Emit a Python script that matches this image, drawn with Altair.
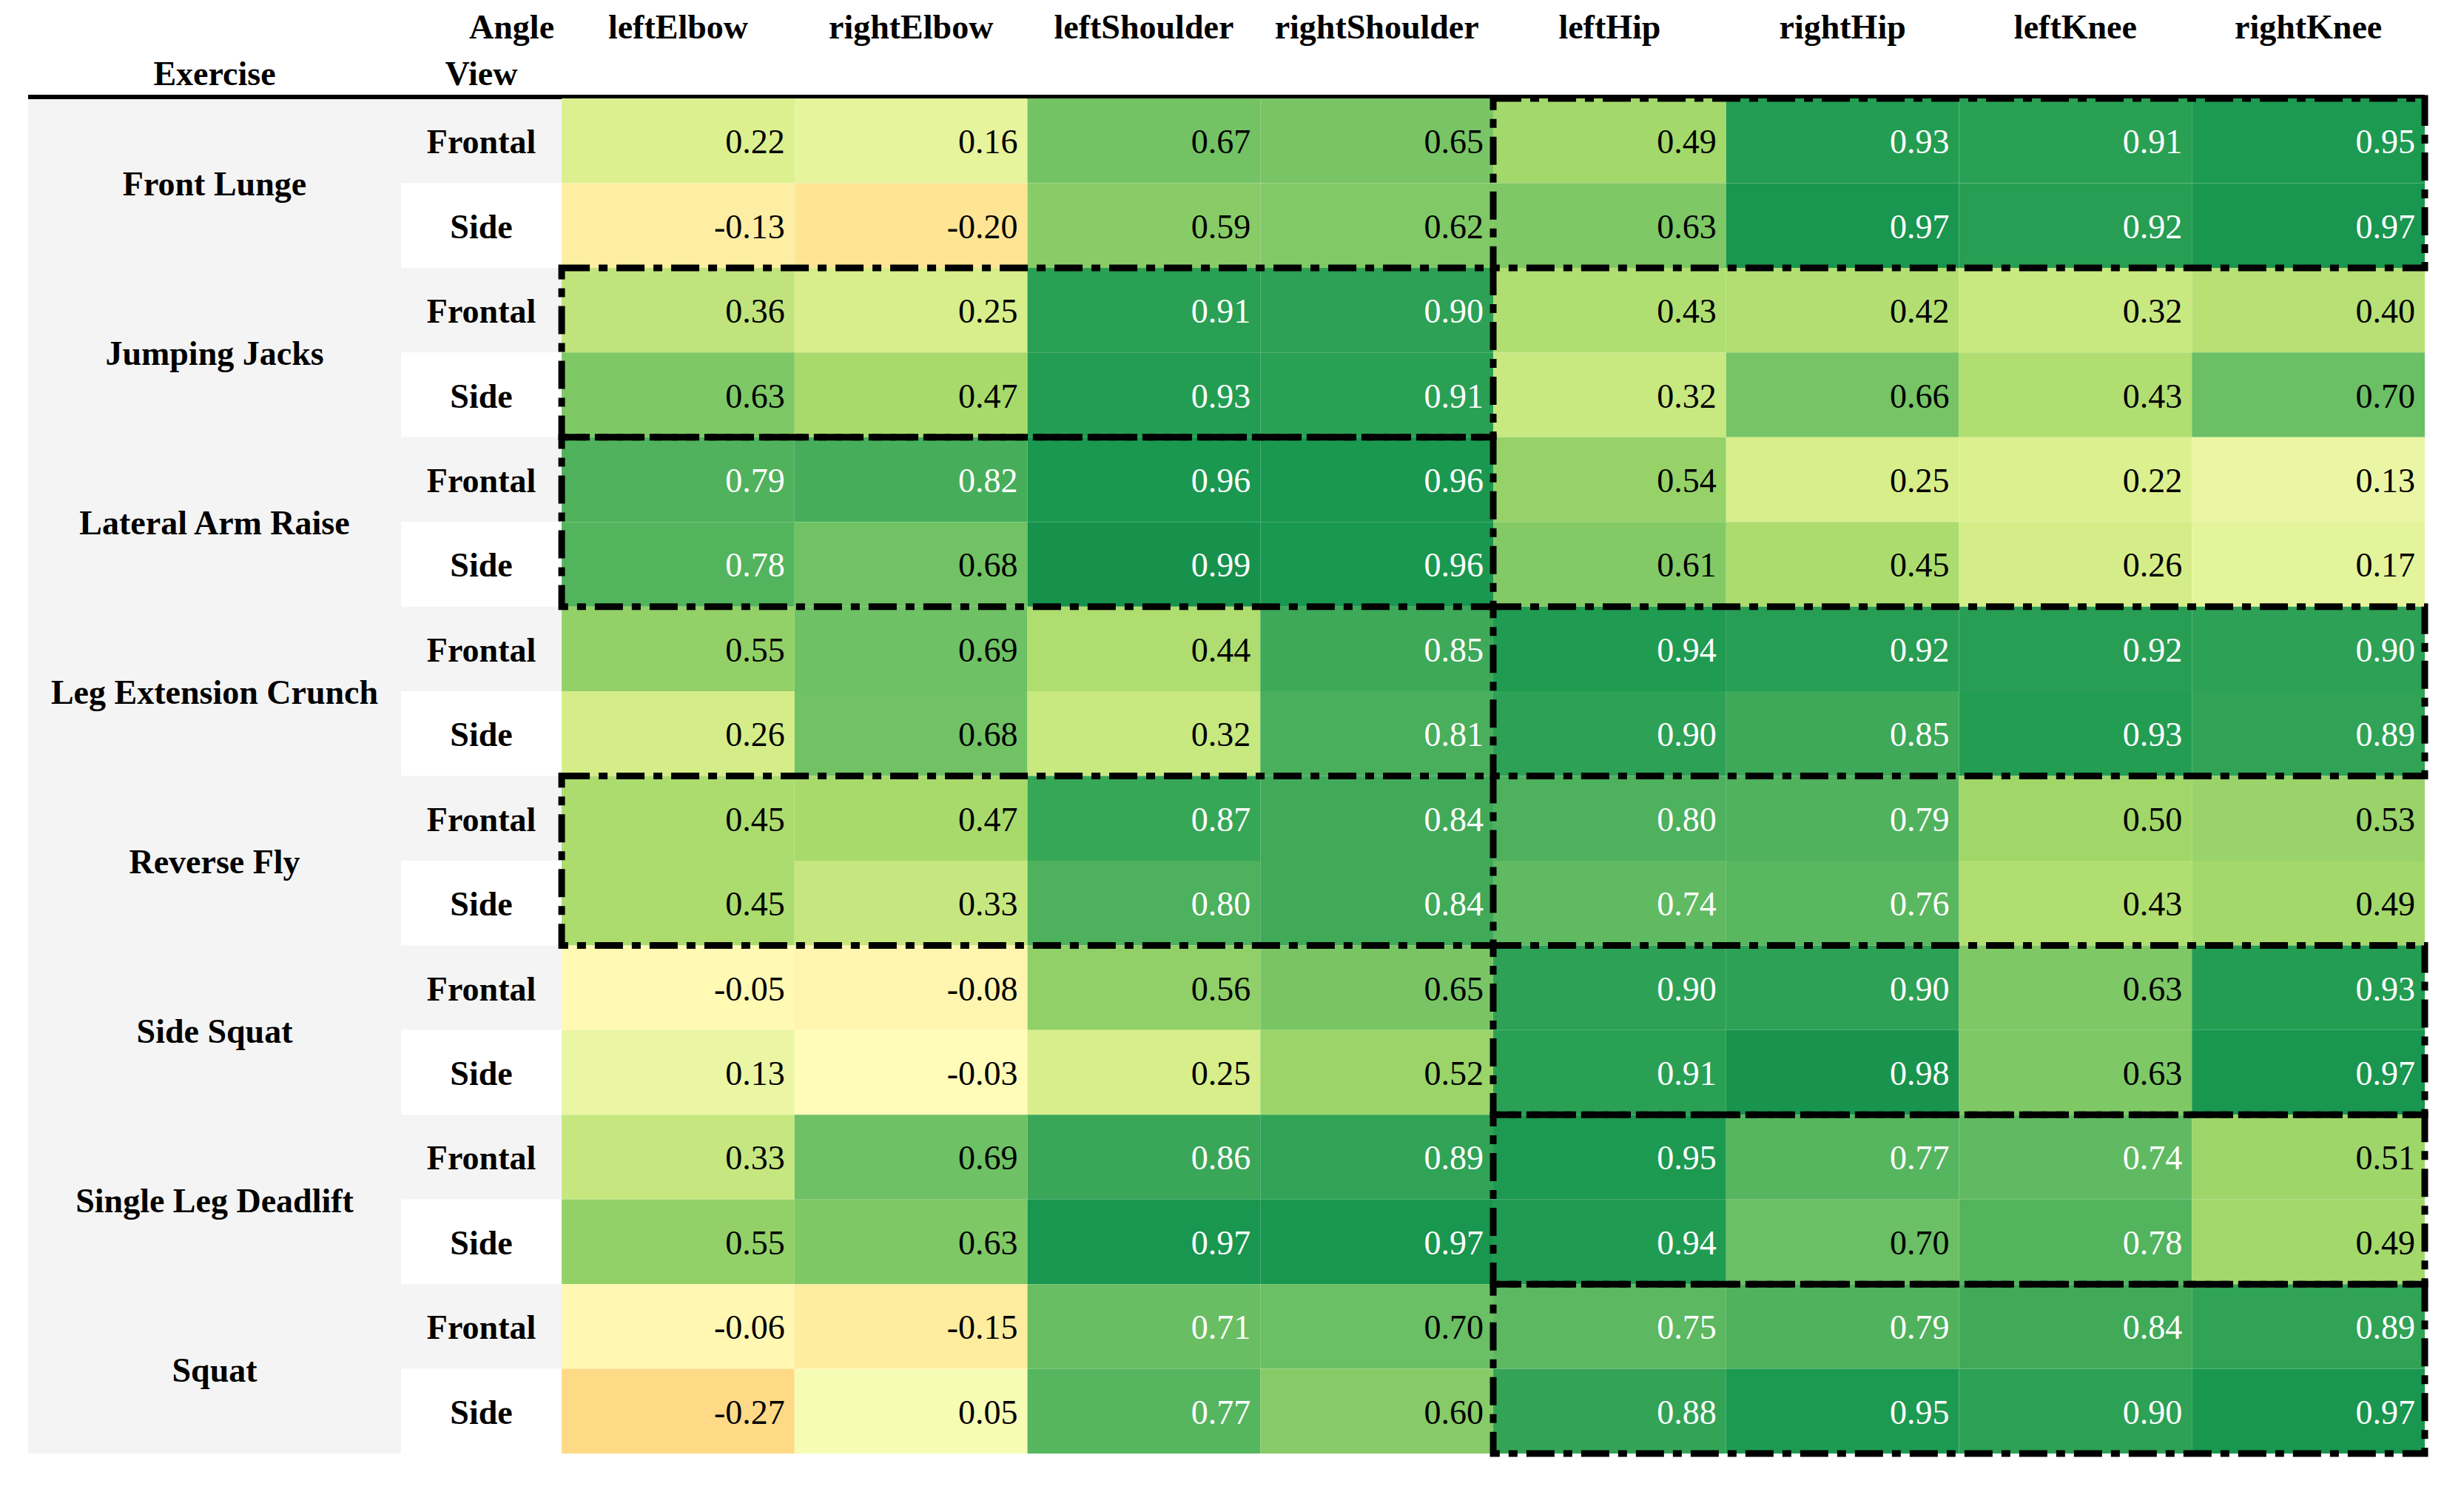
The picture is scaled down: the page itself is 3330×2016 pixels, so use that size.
import altair as alt
import pandas as pd

# ---------------- data ----------------
exercises = ["Front Lunge", "Jumping Jacks", "Lateral Arm Raise", "Leg Extension Crunch",
             "Reverse Fly", "Side Squat", "Single Leg Deadlift", "Squat"]
views = ["Frontal", "Side"]
angles = ["leftElbow", "rightElbow", "leftShoulder", "rightShoulder",
          "leftHip", "rightHip", "leftKnee", "rightKnee"]

front_lunge = [[0.22, 0.16, 0.67, 0.65, 0.49, 0.93, 0.91, 0.95],
               [-0.13, -0.20, 0.59, 0.62, 0.63, 0.97, 0.92, 0.97]]
jumping_jacks = [[0.36, 0.25, 0.91, 0.90, 0.43, 0.42, 0.32, 0.40],
                 [0.63, 0.47, 0.93, 0.91, 0.32, 0.66, 0.43, 0.70]]
lateral_arm_raise = [[0.79, 0.82, 0.96, 0.96, 0.54, 0.25, 0.22, 0.13],
                     [0.78, 0.68, 0.99, 0.96, 0.61, 0.45, 0.26, 0.17]]
leg_extension_crunch = [[0.55, 0.69, 0.44, 0.85, 0.94, 0.92, 0.92, 0.90],
                        [0.26, 0.68, 0.32, 0.81, 0.90, 0.85, 0.93, 0.89]]
reverse_fly = [[0.45, 0.47, 0.87, 0.84, 0.80, 0.79, 0.50, 0.53],
               [0.45, 0.33, 0.80, 0.84, 0.74, 0.76, 0.43, 0.49]]
side_squat = [[-0.05, -0.08, 0.56, 0.65, 0.90, 0.90, 0.63, 0.93],
              [0.13, -0.03, 0.25, 0.52, 0.91, 0.98, 0.63, 0.97]]
single_leg_deadlift = [[0.33, 0.69, 0.86, 0.89, 0.95, 0.77, 0.74, 0.51],
                       [0.55, 0.63, 0.97, 0.97, 0.94, 0.70, 0.78, 0.49]]
squat = [[-0.06, -0.15, 0.71, 0.70, 0.75, 0.79, 0.84, 0.89],
         [-0.27, 0.05, 0.77, 0.60, 0.88, 0.95, 0.90, 0.97]]

# which joint group is highlighted for each exercise
focus = ["lower", "upper", "upper", "lower", "upper", "lower", "lower", "lower"]

all_values = [front_lunge, jumping_jacks, lateral_arm_raise, leg_extension_crunch,
              reverse_fly, side_squat, single_leg_deadlift, squat]

# ---------------- tables ----------------
cell_rows = []
for i, ex in enumerate(exercises):
    for k, vw in enumerate(views):
        for j, a in enumerate(angles):
            cell_rows.append({"exercise": ex, "view": vw, "angle": a,
                              "r": 2 * i + k, "j": j, "v": all_values[i][k][j]})
cells = pd.DataFrame(cell_rows)

view_df = pd.DataFrame([{"r": 2 * i + k, "view": vw}
                        for i in range(len(exercises)) for k, vw in enumerate(views)])
ex_df = pd.DataFrame([{"i": i, "exercise": ex} for i, ex in enumerate(exercises)])
col_df = pd.DataFrame([{"j": j, "angle": a} for j, a in enumerate(angles)])
box_df = pd.DataFrame([{"i": i, "group": g} for i, g in enumerate(focus)])
idx_hdr = pd.DataFrame([{"label": "Exercise", "col": "ex"}, {"label": "View", "col": "view"}])
one_df = pd.DataFrame([{"label": "Angle"}])

# ---------------- layout constants ----------------
N_COLS = len(angles)
N_ROWS = 2 * len(exercises)
EX_LEFT = -2.291     # left edge of the "Exercise" column (in data-column units)
VIEW_LEFT = -0.6896  # left edge of the "View" column
FONT = "Liberation Serif"
FS = 46
GRAY = "#f4f4f4"

xs = alt.Scale(domain=[EX_LEFT, N_COLS], nice=False, zero=False)
ys = alt.Scale(domain=[0, N_ROWS], reverse=True, nice=False, zero=False)

rdylgn = ["#a50026", "#d73027", "#f46d43", "#fdae61", "#fee08b", "#ffffbf",
          "#d9ef8b", "#a6d96a", "#66bd63", "#1a9850", "#006837"]
vmin, vmax = -1.2, 1.2
stops = [vmin + (vmax - vmin) * t / 10 for t in range(11)]
color_scale = alt.Scale(domain=stops, range=rdylgn, interpolate="rgb")


def X(f):
    return alt.X(f, type="quantitative", scale=xs, axis=None)


def Y(f):
    return alt.Y(f, type="quantitative", scale=ys, axis=None)


# gray background of the exercise column
ex_bg = alt.Chart(ex_df).transform_calculate(
    x0=str(EX_LEFT), x1=str(VIEW_LEFT), y0="2*datum.i", y1="2*datum.i+2"
).mark_rect(color=GRAY).encode(x=X("x0"), x2="x1", y=Y("y0"), y2="y1")

# view column background (gray for Frontal, white for Side)
view_bg = alt.Chart(view_df).transform_calculate(
    x0=str(VIEW_LEFT), x1="0", y0="datum.r", y1="datum.r+1"
).mark_rect().encode(
    x=X("x0"), x2="x1", y=Y("y0"), y2="y1",
    color=alt.condition(alt.datum.view == "Frontal", alt.value(GRAY), alt.value("white")),
)

header_rule = alt.Chart(one_df).transform_calculate(
    x0=str(EX_LEFT), x1=str(N_COLS), y0="0"
).mark_rule(color="black", strokeWidth=6, yOffset=-2).encode(
    x=X("x0"), x2="x1", y=Y("y0")
)

heat = alt.Chart(cells).transform_calculate(
    x1="datum.j+1", y1="datum.r+1"
).mark_rect().encode(
    x=X("j"), x2="x1", y=Y("r"), y2="y1",
    color=alt.Color("v:Q", scale=color_scale, legend=None),
)

vals = alt.Chart(cells).transform_calculate(
    xr="datum.j+1", yc="datum.r+0.5",
    label="replace(format(datum.v, '.2f'), '\u2212', '-')"
).mark_text(font=FONT, fontSize=FS, align="right", baseline="middle", dx=-13, dy=3).encode(
    x=X("xr"), y=Y("yc"),
    text="label:N",
    color=alt.condition(alt.datum.v >= 0.705, alt.value("white"), alt.value("black")),
)

ex_labels = alt.Chart(ex_df).transform_calculate(
    xc=str((EX_LEFT + VIEW_LEFT) / 2), yc="2*datum.i+1"
).mark_text(font=FONT, fontSize=FS, fontWeight="bold", align="center", baseline="middle", dy=3,
            color="black").encode(x=X("xc"), y=Y("yc"), text="exercise:N")

view_labels = alt.Chart(view_df).transform_calculate(
    xc=str(VIEW_LEFT / 2), yc="datum.r+0.5"
).mark_text(font=FONT, fontSize=FS, fontWeight="bold", align="center", baseline="middle", dy=3,
            color="black").encode(x=X("xc"), y=Y("yc"), text="view:N")

col_labels = alt.Chart(col_df).transform_calculate(
    xc="datum.j+0.5", yc="-0.705"
).mark_text(font=FONT, fontSize=FS, fontWeight="bold", align="center", baseline="alphabetic",
            color="black").encode(x=X("xc"), y=Y("yc"), text="angle:N")

angle_hdr = alt.Chart(one_df).transform_calculate(
    xc="0", yc="-0.705"
).mark_text(font=FONT, fontSize=FS, fontWeight="bold", align="right", baseline="alphabetic",
            dx=-10, color="black").encode(x=X("xc"), y=Y("yc"), text="label:N")

idx_labels = alt.Chart(idx_hdr).transform_calculate(
    xc=f"datum.col == 'ex' ? {(EX_LEFT + VIEW_LEFT) / 2} : {VIEW_LEFT / 2}", yc="-0.157"
).mark_text(font=FONT, fontSize=FS, fontWeight="bold", align="center", baseline="alphabetic",
            color="black").encode(x=X("xc"), y=Y("yc"), text="label:N")

boxes = alt.Chart(box_df).transform_calculate(
    x0="datum.group == 'upper' ? 0 : 4", x1="datum.group == 'upper' ? 4 : 8",
    y0="2*datum.i", y1="2*datum.i+2"
).mark_rect(fillOpacity=0, stroke="black", strokeWidth=9, strokeDash=[38, 12, 12, 12]).encode(
    x=X("x0"), x2="x1", y=Y("y0"), y2="y1"
)

chart = alt.layer(
    ex_bg, view_bg, header_rule, heat, vals, ex_labels, view_labels,
    col_labels, angle_hdr, idx_labels, boxes
).properties(
    width=3239, height=1831,
    autosize=alt.AutoSizeParams(type="none"),
    padding={"left": 30, "top": 125, "right": 45, "bottom": 45},
).configure_view(stroke=None)

chart.save("out.html", embed_options={"renderer": "svg", "actions": False})
